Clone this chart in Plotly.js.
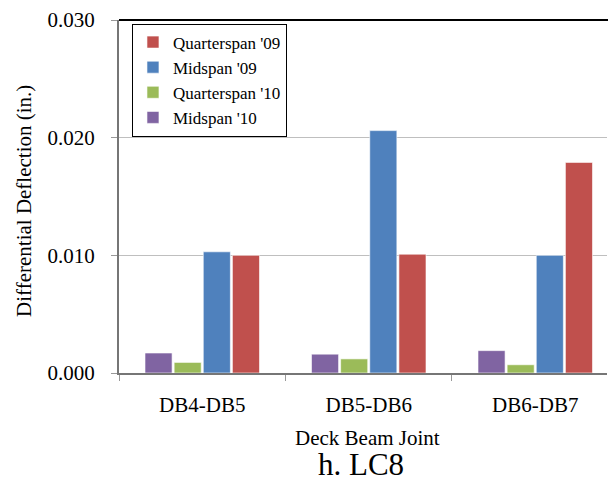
<!DOCTYPE html>
<html>
<head>
<meta charset="utf-8">
<script src="https://cdn.plot.ly/plotly-3.0.1.min.js"></script>
<style>html,body{margin:0;padding:0;background:#fff;}#chart{width:608px;height:485px;}</style>
</head>
<body>
<div id="chart"></div>
<script>
const categories = ["DB4-DB5", "DB5-DB6", "DB6-DB7"];
const seriesNames = ["Midspan '10", "Quarterspan '10", "Midspan '09", "Quarterspan '09"];
const midspan10 = [0.0017, 0.0016, 0.0019];
const quarterspan10 = [0.0009, 0.0012, 0.0007];
const midspan09 = [0.0103, 0.0206, 0.0100];
const quarterspan09 = [0.0100, 0.0101, 0.0179];
const seriesColors = ["#8064A2", "#9BBB59", "#4F81BD", "#C0504D"];
const yTickVals = [0, 0.01, 0.02, 0.03];

const seriesValues = [midspan10, quarterspan10, midspan09, quarterspan09];
const FONT = "'Liberation Serif', 'Times New Roman', Times, serif";

const data = seriesValues.map((vals, i) => ({
  type: "bar",
  name: seriesNames[i],
  x: categories,
  y: vals,
  marker: {color: seriesColors[i], line: {color: "rgba(255,255,255,0.6)", width: 1}},
  hoverinfo: "x+y+name"
}));

const layout = {
  width: 608,
  height: 485,
  margin: {l: 119, r: 1, t: 20, b: 112},
  paper_bgcolor: "#fff",
  plot_bgcolor: "#fff",
  barmode: "group",
  bargap: 0.3,
  bargroupgap: 0.07,
  font: {family: FONT, color: "#000"},
  showlegend: true,
  legend: {
    x: 0.0266, y: 0.99, xanchor: "left", yanchor: "top",
    traceorder: "reversed",
    bgcolor: "#fff",
    bordercolor: "#000",
    borderwidth: 1,
    font: {family: FONT, size: 17, color: "#000"},
    itemwidth: 30
  },
  xaxis: {
    type: "category",
    range: [-0.5, 2.431],
    showline: true,
    linecolor: "#767676",
    linewidth: 2,
    ticks: "outside",
    tickson: "boundaries",
    ticklen: 6,
    tickcolor: "#999",
    tickwidth: 1,
    showgrid: false,
    zeroline: false,
    tickfont: {family: FONT, size: 21, color: "#000"},
    ticklabelstandoff: 12,
    fixedrange: true
  },
  yaxis: {
    range: [0, 0.030],
    tickvals: yTickVals,
    tickformat: ".3f",
    showline: true,
    linecolor: "#767676",
    linewidth: 2,
    ticks: "outside",
    ticklen: 6,
    tickcolor: "#999",
    tickwidth: 1,
    showgrid: true,
    gridcolor: "#bfbfbf",
    gridwidth: 1.3,
    zeroline: false,
    tickfont: {family: FONT, size: 21, color: "#000"},
    ticklabelstandoff: 12,
    fixedrange: true
  },
  shapes: [
    {type: "line", xref: "paper", yref: "paper", x0: 0, x1: 1.01, y0: 1, y1: 1,
     line: {color: "#000", width: 2}}
  ],
  annotations: [
    {text: "Differential Deflection (in.)", xref: "paper", yref: "paper",
     x: -0.195, y: 0.487, textangle: -90, showarrow: false,
     xanchor: "center", yanchor: "middle",
     font: {family: FONT, size: 21, color: "#000"}},
    {text: "Deck Beam Joint", xref: "paper", yref: "paper",
     x: 0.51, y: -0.183, showarrow: false, xanchor: "center", yanchor: "middle",
     font: {family: FONT, size: 21, color: "#000"}},
    {text: "h. LC8", xref: "paper", yref: "paper",
     x: 0.495, y: -0.312, showarrow: false, xanchor: "center", yanchor: "bottom",
     borderpad: 0,
     font: {family: FONT, size: 31, color: "#000"}}
  ]
};

Plotly.newPlot("chart", data, layout, {displayModeBar: false, staticPlot: true});
</script>
</body>
</html>
